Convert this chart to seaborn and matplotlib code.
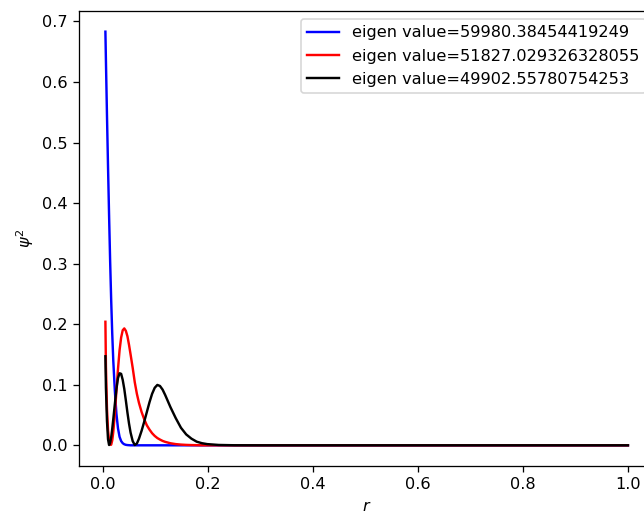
import matplotlib
matplotlib.use("Agg")
import matplotlib.pyplot as plt
import seaborn as sns

# r grid (dense near the origin, coarse in the flat tail)
r = [0.004, 0.005, 0.007, 0.009, 0.011, 0.013, 0.015, 0.017, 0.019, 0.022,
     0.025, 0.028, 0.031, 0.034, 0.037, 0.040, 0.043, 0.046, 0.049, 0.052,
     0.056, 0.060, 0.064, 0.068, 0.073, 0.078, 0.083, 0.088, 0.093, 0.098,
     0.103, 0.108, 0.113, 0.118, 0.128, 0.138, 0.148, 0.158, 0.168, 0.178,
     0.188, 0.198, 0.220, 0.250, 0.300, 0.400, 0.600, 0.800, 1.000]

psi2_blue = [0.683, 0.635, 0.545, 0.460, 0.380, 0.305, 0.240, 0.185, 0.140, 0.090,
             0.052, 0.028, 0.014, 0.007, 0.0035, 0.0017, 0.0008, 0.0004, 0.0002, 0.0,
             0.0, 0.0, 0.0, 0.0, 0.0, 0.0, 0.0, 0.0, 0.0, 0.0,
             0.0, 0.0, 0.0, 0.0, 0.0, 0.0, 0.0, 0.0, 0.0, 0.0,
             0.0, 0.0, 0.0, 0.0, 0.0, 0.0, 0.0, 0.0, 0.0]

psi2_red = [0.204, 0.130, 0.060, 0.025, 0.008, 0.001, 0.001, 0.008, 0.022, 0.052,
            0.090, 0.126, 0.157, 0.178, 0.190, 0.193, 0.189, 0.180, 0.166, 0.150,
            0.128, 0.104, 0.085, 0.070, 0.055, 0.043, 0.033, 0.026, 0.020, 0.0155,
            0.012, 0.0095, 0.0073, 0.0057, 0.0034, 0.002, 0.0012, 0.0007, 0.0004, 0.0002,
            0.0, 0.0, 0.0, 0.0, 0.0, 0.0, 0.0, 0.0, 0.0]

psi2_black = [0.147, 0.095, 0.040, 0.010, 0.0005, 0.004, 0.013, 0.027, 0.043, 0.068,
              0.093, 0.111, 0.119, 0.118, 0.108, 0.093, 0.074, 0.054, 0.036, 0.021,
              0.007, 0.0005, 0.003, 0.011, 0.024, 0.039, 0.055, 0.071, 0.085, 0.095,
              0.0997, 0.098, 0.092, 0.083, 0.063, 0.045, 0.029, 0.018, 0.011, 0.006,
              0.0035, 0.002, 0.0006, 0.0001, 0.0, 0.0, 0.0, 0.0, 0.0]

labels = ["eigen value=59980.38454419249",
          "eigen value=51827.029326328055",
          "eigen value=49902.55780754253"]

# rendered a bit larger than 100 dpi, like the reference
dpi = 116
fig = plt.figure(figsize=(644 / dpi, 516 / dpi), dpi=dpi)
ax = fig.add_axes([0.1231, 0.0969, 0.8925, 0.8818])

sns.lineplot(x=r, y=psi2_blue, color="blue", label=labels[0], ax=ax)
sns.lineplot(x=r, y=psi2_red, color="red", label=labels[1], ax=ax)
sns.lineplot(x=r, y=psi2_black, color="black", label=labels[2], ax=ax)

ax.set_xlabel("$r$")
ax.set_ylabel(r"$\psi^2$")
ax.legend(loc="upper right")

fig.savefig("out.png", dpi=dpi)
